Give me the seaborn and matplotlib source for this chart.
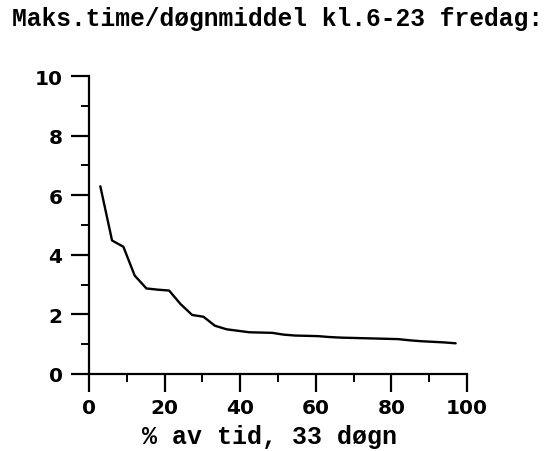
import numpy as np
import pandas as pd
import seaborn as sns
import matplotlib.pyplot as plt
from matplotlib.ticker import MultipleLocator

# Values (duration curve, 33 days)
pct_time = [3.0, 6.1, 9.1, 12.1, 15.2, 18.2, 21.2, 24.2, 27.3, 30.3, 33.3,
            36.4, 39.4, 42.4, 45.5, 48.5, 51.5, 54.5, 57.6, 60.6, 63.6,
            66.7, 69.7, 72.7, 75.8, 78.8, 81.8, 84.8, 87.9, 90.9, 93.9, 97.0]
ratio = [6.3, 4.48, 4.27, 3.3, 2.87, 2.83, 2.8, 2.35, 1.98, 1.92, 1.62,
         1.5, 1.45, 1.4, 1.39, 1.38, 1.32, 1.29, 1.28, 1.27, 1.24,
         1.22, 1.21, 1.2, 1.19, 1.18, 1.17, 1.13, 1.1, 1.08, 1.06, 1.03]

title = "Maks.time/døgnmiddel kl.6-23 fredag:"
xlabel = "% av tid, 33 døgn"
x_ticks = [0, 20, 40, 60, 80, 100]
y_ticks = [0, 2, 4, 6, 8, 10]

df = pd.DataFrame({"pct": pct_time, "ratio": ratio})

sns.set_style("ticks")
plt.rcParams['font.family'] = ['DejaVu Sans']
plt.rcParams['text.color'] = 'black'
plt.rcParams['xtick.color'] = 'black'
plt.rcParams['ytick.color'] = 'black'
plt.rcParams['axes.edgecolor'] = 'black'

fig = plt.figure(figsize=(5.51, 4.52), dpi=100)
ax = fig.add_axes([0.1615, 0.1704, 0.686, 0.6592])

sns.lineplot(data=df, x="pct", y="ratio", ax=ax, color="black", linewidth=1.7)

ax.set_xlim(0, 100)
ax.set_ylim(0, 10)
ax.set_xticks(x_ticks)
ax.set_yticks(y_ticks)
ax.xaxis.set_minor_locator(MultipleLocator(10))
ax.yaxis.set_minor_locator(MultipleLocator(1))
ax.tick_params(which="major", length=13, width=1.6)
ax.tick_params(which="minor", length=6, width=1.4)
ax.tick_params(axis="y", which="major", pad=6)
ax.tick_params(axis="x", which="major", pad=4)
ax.tick_params(axis="both", labelsize=14.5)
for lab in ax.get_xticklabels() + ax.get_yticklabels():
    lab.set_fontweight("bold")

sns.despine(ax=ax)
for side in ["left", "bottom"]:
    ax.spines[side].set_linewidth(1.6)

ax.set_ylabel("")
ax.set_xlabel("")
fig.text(0.49, 0.034, xlabel, fontsize=18, fontweight="bold",
         family="Liberation Mono", ha="center", va="center")

fig.text(0.022, 0.957, title, fontsize=17.7, fontweight="bold",
         family="Liberation Mono", ha="left", va="center")

fig.savefig("out.png", dpi=100)
